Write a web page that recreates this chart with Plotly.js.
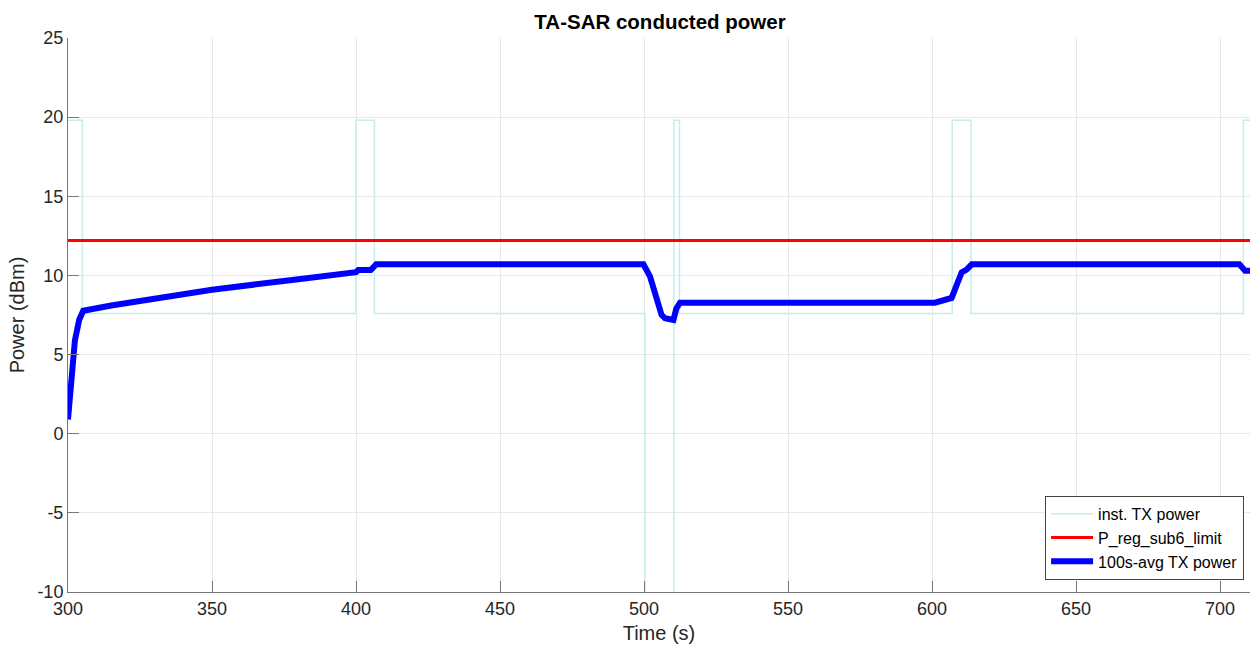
<!DOCTYPE html>
<html>
<head>
<meta charset="utf-8">
<script src="https://cdn.plot.ly/plotly-3.0.1.min.js"></script>
<style>html,body{margin:0;padding:0;background:#fff;}#chart{width:1250px;height:648px;}</style>
</head>
<body>
<div id="chart"></div>
<script>
// inst. TX power (step waveform)
const instTime = [300, 305, 305, 400, 400, 406.4, 406.4, 500.3, 500.3, 510.4, 510.4, 512.3, 512.3, 607, 607, 613.5, 613.5, 708.1, 708.1, 712];
const instPower = [19.8, 19.8, 7.6, 7.6, 19.8, 19.8, 7.6, 7.6, -40, -40, 19.8, 19.8, 7.6, 7.6, 19.8, 19.8, 7.6, 7.6, 19.8, 19.8];

// regulatory limit
const limitTime = [300, 712];
const limitPower = [12.2, 12.2];

// 100s-avg TX power
const avgTime = [300, 301.2, 302.4, 303.9, 305.3, 315, 328.5, 350, 380, 400, 400.8, 405.1, 407, 499.8, 502.1, 504.4, 506.1, 507.3, 510.2, 511.2, 512.5, 601, 606.8, 610.3, 612, 613.8, 706.7, 708.7, 712];
const avgPower = [0.9, 3.8, 5.9, 7.2, 7.77, 8.1, 8.45, 9.1, 9.76, 10.2, 10.34, 10.34, 10.7, 10.7, 9.93, 8.66, 7.5, 7.29, 7.19, 7.9, 8.28, 8.28, 8.58, 10.2, 10.37, 10.7, 10.7, 10.3, 10.3];

const xTicks = [300, 350, 400, 450, 500, 550, 600, 650, 700];
const yTicks = [-10, -5, 0, 5, 10, 15, 20, 25];

const FONT = '"Liberation Sans", Arial, sans-serif';

const traces = [
  {x: instTime, y: instPower, mode: 'lines', name: 'inst. TX power',
   line: {color: '#c6ecec', width: 1.5}},
  {x: limitTime, y: limitPower, mode: 'lines', name: 'P_reg_sub6_limit',
   line: {color: '#ff0000', width: 3}},
  {x: avgTime, y: avgPower, mode: 'lines', name: '100s-avg TX power',
   line: {color: '#0000ff', width: 6}}
];

const layout = {
  width: 1250, height: 648,
  margin: {l: 68, r: 0, t: 38, b: 56},
  paper_bgcolor: '#fff', plot_bgcolor: '#fff',
  font: {family: FONT, color: '#262626'},
  title: {text: 'TA-SAR conducted power', font: {family: FONT, size: 20.5, color: '#000', weight: 'bold'},
          x: 0.528, xref: 'container', y: 1 - 22/648, yref: 'container', yanchor: 'middle'},
  showlegend: true,
  legend: {x: 0.995, xanchor: 'right', y: 0.022, yanchor: 'bottom',
           bgcolor: '#fff', bordercolor: '#444', borderwidth: 1,
           font: {family: FONT, size: 16, color: '#000'}, itemwidth: 42, tracegroupgap: 0},
  xaxis: {range: [300, 710.4], tickvals: xTicks, ticktext: xTicks.map(String),
          showgrid: true, gridcolor: '#e8e8e8', zeroline: false,
          showline: true, linecolor: '#777', linewidth: 1,
          ticks: 'inside', ticklen: 11, tickcolor: '#777',
          tickfont: {family: FONT, size: 18, color: '#262626'},
          title: {text: 'Time (s)', font: {family: FONT, size: 20, color: '#262626'}, standoff: 8}},
  yaxis: {range: [-10, 25], tickvals: yTicks, ticktext: yTicks.map(String),
          showgrid: true, gridcolor: '#e8e8e8', zeroline: false,
          showline: true, linecolor: '#777', linewidth: 1,
          ticks: 'inside', ticklen: 11, tickcolor: '#777',
          tickfont: {family: FONT, size: 18, color: '#262626'},
          title: {text: 'Power (dBm)', font: {family: FONT, size: 20, color: '#262626'}, standoff: 7}}
};

Plotly.newPlot('chart', traces, layout, {displayModeBar: false, staticPlot: true});
</script>
</body>
</html>
